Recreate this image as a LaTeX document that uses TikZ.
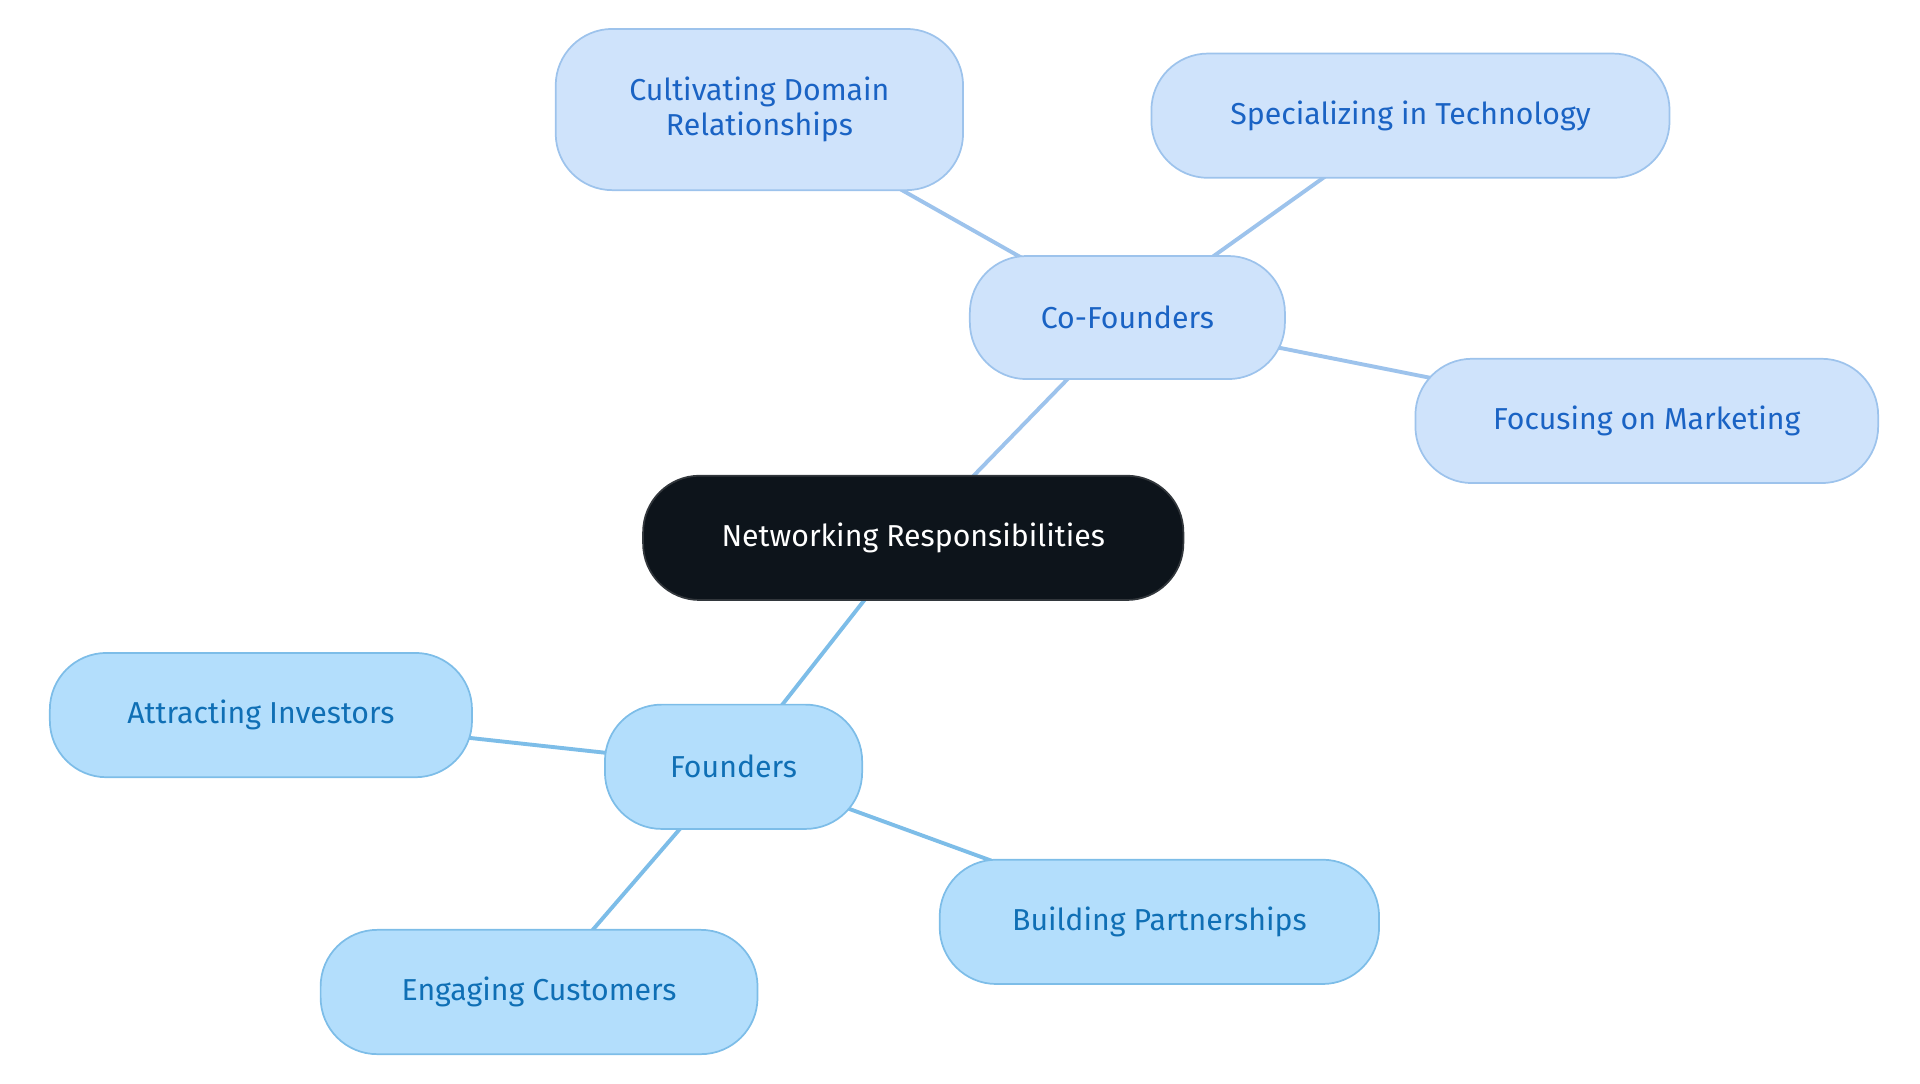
\documentclass[tikz,border=0pt]{standalone}
\usepackage{fontspec}
\setmainfont{Fira Sans}
\begin{document}
\begin{tikzpicture}[x=0.05cm,y=-0.05cm,
 box/.style={draw,line width=2pt,rounded corners=2.3cm,align=center,font=\fontsize{35}{40}\selectfont,inner sep=0pt},
 cb/.style={box,fill={rgb,255:red,207;green,227;blue,251},draw={rgb,255:red,157;green,195;blue,236},text={rgb,255:red,26;green,99;blue,196}},
 fb/.style={box,fill={rgb,255:red,179;green,222;blue,252},draw={rgb,255:red,125;green,189;blue,232},text={rgb,255:red,15;green,111;blue,181}},
 ce/.style={line width=4.5pt,draw={rgb,255:red,157;green,195;blue,236}},
 fe/.style={line width=4.5pt,draw={rgb,255:red,125;green,189;blue,232}}]
\useasboundingbox (0,0) rectangle (1560,880);
\begin{scope}[on background layer/.style={}]
\end{scope}
\coordinate (pc) at (742,437);
\coordinate (pco) at (916,258);
\coordinate (pcu) at (617,89);
\coordinate (psp) at (1146,94);
\coordinate (pfo) at (1338,342);
\coordinate (pf) at (596,623);
\coordinate (pat) at (212,581);
\coordinate (pbu) at (942,749);
\coordinate (pen) at (438,806);
\draw[ce] (pc)--(pco) (pco)--(pcu) (pco)--(psp) (pco)--(pfo);
\draw[fe] (pc)--(pf) (pf)--(pat) (pf)--(pbu) (pf)--(pen);
\node[box,fill={rgb,255:red,13;green,20;blue,27},draw={rgb,255:red,50;green,55;blue,60},text=white,minimum width=439*0.05cm,minimum height=101*0.05cm] (c) at (pc) {Networking Responsibilities};
\node[cb,minimum width=256*0.05cm,minimum height=100*0.05cm] (co) at (pco) {Co-Founders};
\node[cb,minimum width=331*0.05cm,minimum height=131*0.05cm] (cu) at (pcu) {Cultivating Domain\\Relationships};
\node[cb,minimum width=421*0.05cm,minimum height=101*0.05cm] (sp) at (psp) {Specializing in Technology};
\node[cb,minimum width=376*0.05cm,minimum height=101*0.05cm] (fo) at (pfo) {Focusing on Marketing};
\node[fb,minimum width=209*0.05cm,minimum height=101*0.05cm] (f) at (pf) {Founders};
\node[fb,minimum width=343*0.05cm,minimum height=101*0.05cm] (at) at (pat) {Attracting Investors};
\node[fb,minimum width=357*0.05cm,minimum height=101*0.05cm] (bu) at (pbu) {Building Partnerships};
\node[fb,minimum width=355*0.05cm,minimum height=101*0.05cm] (en) at (pen) {Engaging Customers};
\end{tikzpicture}
\end{document}
